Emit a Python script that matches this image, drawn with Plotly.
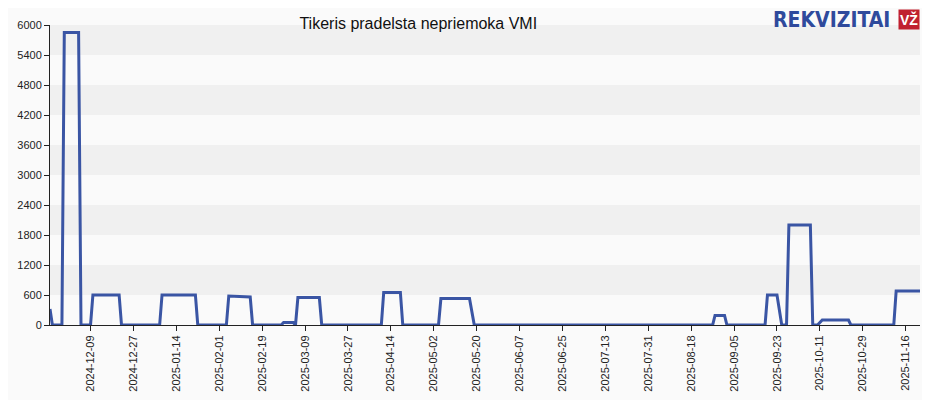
import plotly.graph_objects as go
import pandas as pd

dates = ["2024-11-22","2024-11-23","2024-11-27","2024-11-28","2024-12-04","2024-12-05",
"2024-12-09","2024-12-10","2024-12-21","2024-12-22","2025-01-07","2025-01-08","2025-01-22","2025-01-23",
"2025-02-04","2025-02-05","2025-02-14","2025-02-15","2025-02-27","2025-02-28","2025-03-04","2025-03-05",
"2025-03-06","2025-03-15","2025-03-16","2025-04-10","2025-04-11","2025-04-18","2025-04-19",
"2025-05-04","2025-05-05","2025-05-17","2025-05-19","2025-08-27","2025-08-28","2025-09-01","2025-09-02",
"2025-09-18","2025-09-19","2025-09-23","2025-09-25","2025-09-27","2025-09-28","2025-10-07","2025-10-08",
"2025-10-10","2025-10-12","2025-10-23","2025-10-24","2025-11-11","2025-11-12","2025-11-22"]
values = [320,0,0,5850,5850,0,
0,600,600,0,0,600,600,0,
0,580,560,0,0,50,50,0,
550,550,0,0,650,650,0,
0,530,530,0,0,190,190,0,
0,600,600,0,0,2000,2000,0,
0,100,100,0,0,680,680]

tick_dates = pd.date_range("2024-12-09", "2025-11-16", freq="18D")
y_ticks = list(range(0, 6001, 600))

fig = go.Figure()
for i in range(len(y_ticks) - 1):
    if i % 2 == 1:
        fig.add_shape(type="rect", xref="paper", yref="y", x0=0, x1=1,
                      y0=y_ticks[i], y1=y_ticks[i+1], fillcolor="#f0f0f0",
                      line_width=0, layer="below")
fig.add_trace(go.Scatter(x=pd.to_datetime(dates), y=values, mode="lines",
                         line=dict(color="#3a55a4", width=3)))
fig.update_layout(
    width=922, height=392, margin=dict(l=42, r=10, t=17, b=75, autoexpand=False),
    paper_bgcolor="#fafafa", plot_bgcolor="#fafafa", showlegend=False,
    font=dict(family="Liberation Sans, Arial", size=11, color="#222"),
    title=dict(text="Tikeris pradelsta nepriemoka VMI", x=0.445, y=0.975,
               xanchor="center", yanchor="top", font=dict(size=16, color="#111")),
)
fig.update_xaxes(range=["2024-11-22", "2025-11-22"], tickvals=tick_dates,
                 tickformat="%Y-%m-%d", tickangle=-90, showgrid=False, automargin=False,
                 showline=True, linecolor="#222", ticks="outside", ticklen=5,
                 tickcolor="#222")
fig.update_yaxes(range=[0, 6000], tickvals=y_ticks, showgrid=False, automargin=False,
                 showline=True, linecolor="#222", ticks="outside", ticklen=5,
                 tickcolor="#222", zeroline=False)
fig.add_annotation(xref="paper", yref="paper", x=0.968, y=1.018, xanchor="right",
                   yanchor="middle", showarrow=False,
                   text="<b>REKVIZITAI</b>", font=dict(size=21, color="#2f4a9c",
                   family="DejaVu Sans Condensed, Liberation Sans Narrow"))
fig.add_annotation(xref="paper", yref="paper", x=1.0, y=1.018, xanchor="right",
                   yanchor="middle", showarrow=False, bgcolor="#c0202f",
                   text="<b>VŽ</b>", font=dict(size=14, color="white"))
fig.write_html("out.html")
